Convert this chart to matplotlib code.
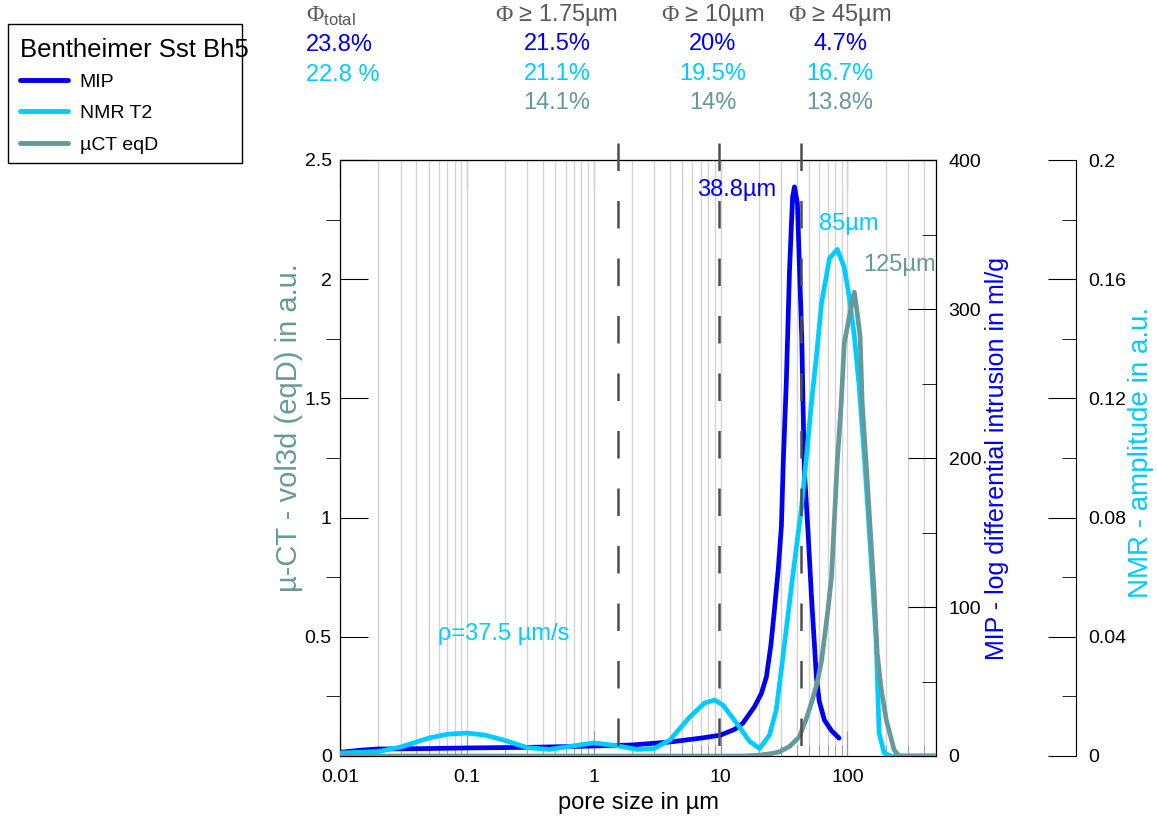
import matplotlib

matplotlib.use("Agg")

import matplotlib.pyplot as plt
from matplotlib.patches import Rectangle
from matplotlib.ticker import FixedLocator, LogLocator, NullFormatter

plt.rcParams["font.family"] = ["Liberation Sans", "DejaVu Sans"]
plt.rcParams["mathtext.fontset"] = "custom"
plt.rcParams["mathtext.rm"] = "Liberation Serif"
plt.rcParams["mathtext.sf"] = "Liberation Sans"

# pore size distributions
mip_size = [0.01, 0.015, 0.02, 0.05, 0.1, 0.3, 1, 2, 4, 7, 10, 13, 15, 18.5, 21, 23, 25,
            26.6, 28.5, 30.2, 31.3, 33, 35, 37, 38.3, 40.4, 43.7, 45.8, 49, 52, 57, 60, 66, 75, 86]
mip_val = [2.5, 4, 4.7, 5, 5.4, 5.8, 6.7, 7.4, 9.4, 12, 14, 18, 22, 33, 42, 53, 75,
           98, 125, 154, 199, 250, 326, 375, 382, 371, 281, 192, 150, 109, 53, 37, 24, 17, 12]

nmr_size = [0.01, 0.02, 0.03, 0.05, 0.07, 0.1, 0.14, 0.2, 0.3, 0.45, 0.6, 1.0, 1.5, 2.2, 3.0,
            4.0, 5.7, 7.5, 9.0, 10.5, 13.4, 16.9, 20.3, 24.3, 27.5, 30.8, 37, 43.4, 47.5, 52,
            57, 62.6, 72.3, 83.4, 94.5, 103.6, 113.5, 124, 138, 154, 169, 178, 195, 220, 500]
nmr_val = [0.001, 0.0015, 0.003, 0.006, 0.0073, 0.0077, 0.007, 0.0052, 0.0028, 0.0022, 0.003,
           0.0044, 0.0035, 0.0022, 0.0025, 0.0054, 0.013, 0.0178, 0.0188, 0.017, 0.011, 0.005,
           0.0025, 0.007, 0.0154, 0.032, 0.060, 0.083, 0.100, 0.118, 0.134, 0.152, 0.167, 0.170,
           0.164, 0.154, 0.141, 0.124, 0.097, 0.066, 0.038, 0.0077, 0.001, 0, 0]

ct_size = [0.01, 15, 20, 25, 29, 35, 41.8, 47, 53, 58, 62.6, 70.2, 75, 83.4, 89.5, 94.5, 100,
           106, 113.5, 119.5, 126, 131, 141, 163, 172, 185, 203, 234, 256, 500]
ct_val = [0, 0, 0.003, 0.01, 0.017, 0.04, 0.08, 0.15, 0.235, 0.31, 0.40, 0.61, 0.75, 1.24,
          1.48, 1.73, 1.80, 1.87, 1.946, 1.86, 1.76, 1.48, 1.22, 0.68, 0.43, 0.28, 0.15, 0.025, 0, 0]

cutoffs = [1.55, 9.8, 43]
x_ticks = [0.01, 0.1, 1, 10, 100]
x_labels = ["0.01", "0.1", "1", "10", "100"]

headers = [r"$\Phi$ ≥ 1.75µm", r"$\Phi$ ≥ 10µm", r"$\Phi$ ≥ 45µm"]
phi_mip = ["21.5%", "20%", "4.7%"]
phi_nmr = ["21.1%", "19.5%", "16.7%"]
phi_ct = ["14.1%", "14%", "13.8%"]
phi_total = ["23.8%", "22.8 %"]

C_MIP = "#0000f5"
C_NMR = "#00ccff"
C_CT = "#669999"
C_TXT = "#595959"

W, H = 1157, 816
fig = plt.figure(figsize=(W / 100, H / 100), dpi=100)
ax = fig.add_axes([340 / W, 1 - 756 / H, 596 / W, 596 / H])
ax_mip = ax.twinx()
ax_nmr = ax.twinx()
ax_ct = ax.twinx()

ax.set_xscale("log")
ax.set_xlim(0.01, 500)
ax.set_ylim(0, 2.5)
ax.xaxis.set_major_locator(FixedLocator(x_ticks))
ax.set_xticklabels(x_labels)
ax.xaxis.set_minor_locator(LogLocator(base=10, subs=range(2, 10), numticks=20))
ax.xaxis.set_minor_formatter(NullFormatter())
ax.grid(True, which="both", axis="x", color="#d4d4d4", linewidth=1)
ax.set_axisbelow(True)
ax.set_yticks([0, 0.5, 1, 1.5, 2, 2.5])
ax.set_yticklabels(["0", "0.5", "1", "1.5", "2", "2.5"])
ax.set_yticks([0.25, 0.75, 1.25, 1.75, 2.25], minor=True)
ax.tick_params(axis="y", which="major", direction="in", length=20, labelsize=14, pad=6)
ax.tick_params(axis="y", which="minor", direction="out", length=10)
ax.tick_params(axis="x", which="major", direction="in", length=18, color="#999999",
               labelsize=14, pad=9)
ax.tick_params(axis="x", which="minor", direction="in", length=8, color="#999999")
ax.set_xlabel("pore size in µm", fontsize=17, labelpad=5)

top = ax.secondary_xaxis("top")
top.xaxis.set_major_locator(FixedLocator(x_ticks))
top.xaxis.set_minor_locator(LogLocator(base=10, subs=range(2, 10), numticks=20))
top.xaxis.set_major_formatter(NullFormatter())
top.xaxis.set_minor_formatter(NullFormatter())
top.tick_params(which="major", direction="in", length=20)
top.tick_params(which="minor", direction="in", length=6)

# MIP
ax_mip.plot(mip_size, mip_val, color=C_MIP, linewidth=3.4, solid_capstyle="round")
ax_mip.set_ylim(0, 400)
ax_mip.set_yticks([0, 100, 200, 300, 400])
ax_mip.set_yticks([50, 150, 250, 350], minor=True)
ax_mip.tick_params(axis="y", which="major", direction="in", length=20, labelsize=14, pad=9)
ax_mip.tick_params(axis="y", which="minor", direction="in", length=10)

# NMR
ax_nmr.plot(nmr_size, nmr_val, color=C_NMR, linewidth=3.4, solid_capstyle="round")
ax_nmr.set_ylim(0, 0.2)
ax_nmr.spines["right"].set_position(("axes", (1076 - 340) / 596))
for s in ["left", "top", "bottom"]:
    ax_nmr.spines[s].set_visible(False)
ax_nmr.set_yticks([0, 0.04, 0.08, 0.12, 0.16, 0.2])
ax_nmr.set_yticklabels(["0", "0.04", "0.08", "0.12", "0.16", "0.2"])
ax_nmr.set_yticks([0.02, 0.06, 0.1, 0.14, 0.18], minor=True)
ax_nmr.tick_params(axis="y", which="major", direction="in", length=20, labelsize=14, pad=9)
ax_nmr.tick_params(axis="y", which="minor", direction="in", length=10)

# µCT on top
ax_ct.plot(ct_size, ct_val, color=C_CT, linewidth=3.4, solid_capstyle="round")
ax_ct.set_ylim(0, 2.5)
ax_ct.yaxis.set_visible(False)
for s in ax_ct.spines.values():
    s.set_visible(False)

for c in cutoffs:
    ax_ct.plot([c, c], [(756 - 143) / 596, 0], transform=ax_ct.get_xaxis_transform(),
               color="#4d4d4d", linewidth=1.8, linestyle=(0, (11, 12)), clip_on=False)

ax_ct.text(27.3, 2.375, "38.8µm", color=C_MIP, fontsize=17, ha="right", va="center")
ax_ct.text(60, 2.23, "85µm", color=C_NMR, fontsize=17, ha="left", va="center")
ax_ct.text(133, 2.06, "125µm", color=C_CT, fontsize=17, ha="left", va="center",
           clip_on=False)
ax_ct.text(0.059, 0.51, "ρ=37.5 µm/s", color=C_NMR, fontsize=17, ha="left", va="center")

# y axis titles
fig.text(289 / W, 1 - 428 / H, "µ-CT - vol3d (eqD) in a.u.", color=C_CT, fontsize=21,
         rotation=90, ha="center", va="center")
fig.text(997 / W, 1 - 458 / H, "MIP - log differential intrusion in ml/g", color=C_MIP,
         fontsize=18, rotation=90, ha="center", va="center")
fig.text(1141 / W, 1 - 452 / H, "NMR - amplitude in a.u.", color=C_NMR, fontsize=20,
         rotation=90, ha="center", va="center")

# porosity table
fig.text(306 / W, 1 - 16 / H, r"$\Phi_{\mathsf{total}}$", color=C_TXT, fontsize=17,
         ha="left", va="center")
fig.text(306 / W, 1 - 45 / H, phi_total[0], color=C_MIP, fontsize=17, ha="left", va="center")
fig.text(306 / W, 1 - 75 / H, phi_total[1], color=C_NMR, fontsize=17, ha="left", va="center")
col_x = [557, 713, 840]
for i, cx in enumerate(col_x):
    fig.text(cx / W, 1 - 15 / H, headers[i], color=C_TXT, fontsize=17, ha="center", va="center")
    fig.text(cx / W, 1 - 44 / H, phi_mip[i], color=C_MIP, fontsize=17, ha="center", va="center")
    fig.text(cx / W, 1 - 74 / H, phi_nmr[i], color=C_NMR, fontsize=17, ha="center", va="center")
    fig.text(cx / W, 1 - 103 / H, phi_ct[i], color=C_CT, fontsize=17, ha="center", va="center")

# legend: the title runs past the frame in the original, so frame and title are drawn by hand
fig.add_artist(Rectangle((8 / W, 1 - 163 / H), 234 / W, 139 / H, transform=fig.transFigure,
                         facecolor="white", edgecolor="black", linewidth=1, zorder=1))
fig.text(20 / W, 1 - 50 / H, "Bentheimer Sst Bh5", fontsize=18.5, ha="left", va="center",
         zorder=3)
handles = [plt.Line2D([], [], color=C_MIP, linewidth=3.5, solid_capstyle="round"),
           plt.Line2D([], [], color=C_NMR, linewidth=3.5, solid_capstyle="round"),
           plt.Line2D([], [], color=C_CT, linewidth=3.5, solid_capstyle="round")]
leg = fig.legend(handles, ["MIP", "NMR T2", "µCT eqD"], loc="upper left",
                 bbox_to_anchor=(20 / W, 1 - 73 / H), borderaxespad=0, borderpad=0,
                 fontsize=14, frameon=False, handlelength=2.45, labelspacing=0.72,
                 handletextpad=0.62)
leg.set_zorder(3)

fig.savefig("out.png", dpi=100)
plt.close(fig)
